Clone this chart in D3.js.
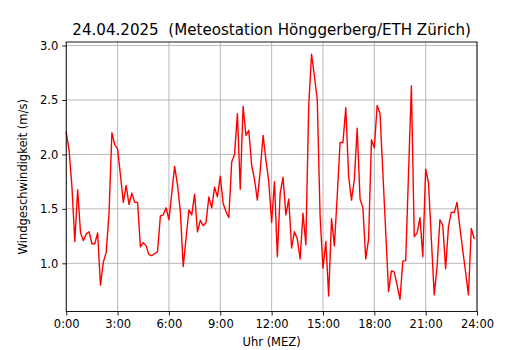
<!DOCTYPE html>
<html>
<head>
<meta charset="utf-8">
<script src="https://cdn.jsdelivr.net/npm/d3@7"></script>
<style>
  html, body { margin: 0; padding: 0; background: #ffffff; }
  svg { display: block; }
  text { font-family: "DejaVu Sans", sans-serif; fill: #000; }
</style>
</head>
<body>
<svg id="chart" width="530" height="350"></svg>
<script>
// ---- data (10-minute values, starting 0:00) ----
const titleText = "24.04.2025  (Meteostation Hönggerberg/ETH Zürich)";
const xLabel = "Uhr (MEZ)";
const yLabel = "Windgeschwindigkeit (m/s)";
const intervalMinutes = 10;
const windSpeed = [
  2.20, 2.04, 1.70, 1.20, 1.675, 1.28, 1.21, 1.27, 1.29, 1.18, 1.18, 1.28,
  0.80, 1.01, 1.10, 1.46, 2.20, 2.09, 2.05, 1.81, 1.56, 1.715, 1.54, 1.645,
  1.56, 1.56, 1.15, 1.19, 1.16, 1.08, 1.07, 1.09, 1.105, 1.435, 1.445, 1.51,
  1.40, 1.645, 1.89, 1.72, 1.48, 0.97, 1.23, 1.49, 1.445, 1.635, 1.29, 1.395,
  1.345, 1.375, 1.61, 1.51, 1.70, 1.61, 1.80, 1.55, 1.475, 1.42, 1.93, 2.00,
  2.375, 1.68, 2.44, 2.175, 2.22, 1.90, 1.77, 1.58, 1.85, 2.175, 1.95, 1.75,
  1.375, 1.75, 1.06, 1.645, 1.79, 1.445, 1.59, 1.14, 1.29, 1.225, 1.04, 1.46,
  1.17, 2.45, 2.92, 2.72, 2.50, 1.43, 0.955, 1.20, 0.70, 1.41, 1.16, 1.62,
  2.11, 2.11, 2.43, 1.80, 1.58, 1.77, 2.24, 1.59, 1.51, 1.04, 1.225, 2.135,
  2.06, 2.45, 2.375, 1.83, 1.29, 0.74, 0.93, 0.92, 0.80, 0.67, 1.02, 1.025,
  1.83, 2.63, 1.245, 1.28, 1.42, 1.06, 1.865, 1.74, 1.22, 0.71, 0.97, 1.40,
  1.35, 0.95, 1.34, 1.47, 1.465, 1.56, 1.33, 1.12, 0.92, 0.71, 1.32, 1.23
];
const xTickHours = [0, 3, 6, 9, 12, 15, 18, 21, 24];
const xTickLabels = ["0:00", "3:00", "6:00", "9:00", "12:00", "15:00", "18:00", "21:00", "24:00"];
const yTickValues = [1.0, 1.5, 2.0, 2.5, 3.0];

// ---- layout ----
const svg = d3.select("#chart");
const L = 66.25, R = 477, T = 42, B = 311.5;

const x = d3.scaleLinear().domain([0, 24]).range([L, R]);
const yMin = d3.min(windSpeed), yMax = d3.max(windSpeed);
const pad = (yMax - yMin) * 0.05;
const y = d3.scaleLinear().domain([yMin - pad, yMax + pad]).range([B, T]);

const series = windSpeed.map((v, i) => ({ h: i * intervalMinutes / 60, v }));

// grid
const grid = svg.append("g");
grid.selectAll("line.gx").data(xTickHours).join("line")
  .attr("x1", d => x(d)).attr("x2", d => x(d))
  .attr("y1", T).attr("y2", B)
  .attr("stroke", "#b0b0b0").attr("stroke-width", 0.9);
grid.selectAll("line.gy").data(yTickValues).join("line")
  .attr("x1", L).attr("x2", R)
  .attr("y1", d => y(d)).attr("y2", d => y(d))
  .attr("stroke", "#b0b0b0").attr("stroke-width", 0.9);

// line
const line = d3.line().x(d => x(d.h)).y(d => y(d.v));
svg.append("path").datum(series)
  .attr("d", line)
  .attr("fill", "none")
  .attr("stroke", "#ff0000")
  .attr("stroke-width", 1.4)
  .attr("stroke-linejoin", "round")
  .attr("stroke-linecap", "square");

// axes
const xAxis = d3.axisBottom(x).tickValues(xTickHours)
  .tickFormat((d, i) => xTickLabels[i]).tickSize(4).tickPadding(4);
const gx = svg.append("g").attr("transform", `translate(0,${B})`).call(xAxis);
gx.select(".domain").remove();
gx.selectAll("line").attr("stroke", "#000").attr("stroke-width", 0.9);
gx.selectAll("text").attr("font-size", "11.5px").attr("font-family", "DejaVu Sans, sans-serif").attr("fill", "#000");

const yAxis = d3.axisLeft(y).tickValues(yTickValues)
  .tickFormat(d3.format(".1f")).tickSize(4).tickPadding(4);
const gy = svg.append("g").attr("transform", `translate(${L},0)`).call(yAxis);
gy.select(".domain").remove();
gy.selectAll("line").attr("stroke", "#000").attr("stroke-width", 0.9);
gy.selectAll("text").attr("font-size", "11.5px").attr("font-family", "DejaVu Sans, sans-serif").attr("fill", "#000");

// frame
svg.append("rect")
  .attr("x", L).attr("y", T).attr("width", R - L).attr("height", B - T)
  .attr("fill", "none").attr("stroke", "#000").attr("stroke-width", 0.9);

// title & labels
svg.append("text").attr("x", (L + R) / 2).attr("y", 35)
  .attr("text-anchor", "middle").attr("font-size", "15.1px")
  .style("white-space", "pre").attr("xml:space", "preserve")
  .text(titleText);
svg.append("text").attr("x", (L + R) / 2).attr("y", 346)
  .attr("text-anchor", "middle").attr("font-size", "11.5px").text(xLabel);
svg.append("text")
  .attr("transform", `translate(27,${(T + B) / 2}) rotate(-90)`)
  .attr("text-anchor", "middle").attr("font-size", "11.5px").text(yLabel);
</script>
</body>
</html>
